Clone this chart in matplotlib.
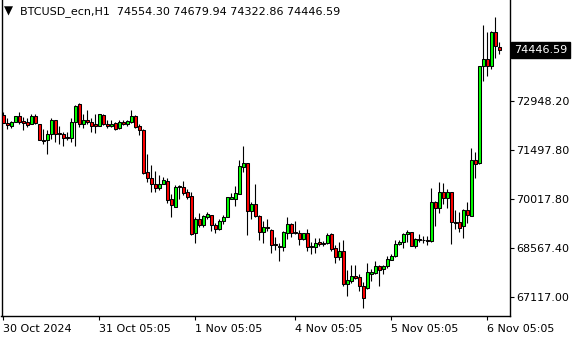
import numpy as np
import matplotlib
matplotlib.use("Agg")
import matplotlib.pyplot as plt

# BTCUSD_ecn H1 candles
opens = [72524, 72276, 72207, 72306, 72484, 72346, 72306, 72247, 72504, 72266,
         71792, 71772, 71970, 72365, 71990, 71950, 71871, 71851, 72326, 72840,
         72266, 72385, 72326, 72247, 72207, 72524, 72266, 72187, 72286, 72128,
         72326, 72247, 72306, 72484, 72187, 72088, 70823, 70644, 70486, 70368,
         70486, 70560, 70023, 69785, 70379, 70398, 70240, 70121, 69014, 69429,
         69251, 69508, 69568, 69251, 69132, 69370, 69508, 70042, 70042, 70181,
         70992, 71091, 69686, 69884, 69528, 69053, 69192, 69113, 68697, 68638,
         68618, 69034, 69291, 69053, 69014, 68856, 69014, 68638, 68618, 68757,
         68717, 68717, 68994, 68579, 68302, 68500, 67523, 67602, 67740, 67720,
         67444, 67384, 67820, 67839, 68057, 67958, 68037, 68234, 68334, 68690,
         68769, 68986, 69046, 68650, 68848, 68808, 68808, 68788, 69936, 69758,
         70232, 70074, 70232, 69362, 69342, 69224, 69698, 69540, 71202, 71103,
         73971, 74188, 73971, 74979, 74554.30]
highs = [72603, 72444, 72346, 72484, 72603, 72464, 72425, 72563, 72563, 72266,
         72108, 72069, 72425, 72365, 72187, 72009, 72009, 72444, 72820, 72880,
         72563, 72662, 72425, 72563, 72563, 72563, 72385, 72365, 72326, 72385,
         72385, 72385, 72662, 72524, 72266, 72108, 71376, 71040, 70862, 70743,
         70684, 70660, 70181, 70458, 70458, 70557, 70319, 70240, 69489, 69607,
         69548, 69647, 69568, 69330, 69429, 69548, 70102, 70201, 70418, 71190,
         71605, 71111, 69944, 70478, 69548, 69390, 69429, 69132, 68915, 68717,
         69093, 69508, 69311, 69370, 69113, 69034, 69132, 68757, 68876, 68876,
         68777, 69014, 69014, 68658, 68757, 68828, 67938, 68076, 68076, 67800,
         67582, 68136, 67958, 68195, 68076, 68076, 68334, 68413, 68808, 68808,
         69026, 69125, 69046, 68868, 68986, 68947, 68947, 70351, 69976, 70549,
         70509, 70331, 70252, 69698, 69639, 69738, 69936, 71538, 71439, 73971,
         75197, 74999, 75019, 75435, 74679.94]
lows = [72276, 72108, 72148, 72306, 72266, 72069, 72168, 72247, 72266, 71772,
        71673, 71376, 71812, 71732, 71673, 71594, 71792, 71713, 71594, 72168,
        72148, 72266, 72009, 71990, 72187, 72227, 72128, 72168, 72088, 72108,
        72227, 72207, 72286, 72128, 71930, 70783, 70546, 70249, 70249, 70308,
        70486, 69900, 69508, 69785, 70042, 70161, 70023, 68974, 68717, 69192,
        69212, 69449, 69093, 69014, 69113, 69291, 69489, 70023, 69825, 70181,
        70834, 68974, 69449, 69489, 68816, 68717, 69073, 68440, 68519, 68183,
        68500, 68856, 68915, 68994, 68658, 68816, 68500, 68401, 68440, 68638,
        68638, 68697, 68500, 68144, 68223, 67463, 67167, 67542, 67661, 67305,
        66811, 67365, 67602, 67800, 67463, 67800, 67978, 68215, 68314, 68670,
        68571, 68769, 68650, 68591, 68749, 68729, 68670, 68769, 69243, 69619,
        69896, 69758, 68690, 69145, 69065, 68887, 69323, 69520, 70648, 71083,
        73536, 73694, 73892, 74228, 74322.86]
closes = [72276, 72217, 72306, 72484, 72306, 72286, 72227, 72504, 72286, 71772,
          71762, 71970, 72385, 71970, 71970, 71851, 71851, 72326, 72801, 72247,
          72365, 72326, 72207, 72207, 72543, 72266, 72187, 72266, 72108, 72326,
          72247, 72346, 72484, 72168, 72088, 70803, 70644, 70466, 70368, 70486,
          70585, 70010, 69845, 70379, 70418, 70220, 70102, 68994, 69429, 69251,
          69528, 69587, 69251, 69132, 69390, 69508, 70082, 70102, 70201, 71012,
          71091, 69667, 69884, 69528, 69053, 69192, 69172, 68678, 68658, 68618,
          69053, 69291, 69034, 69014, 68856, 69014, 68599, 68599, 68737, 68697,
          68697, 68974, 68559, 68302, 68480, 67503, 67622, 67740, 67700, 67444,
          67107, 67859, 67859, 68057, 67938, 68037, 68254, 68334, 68690, 68749,
          68986, 69046, 68650, 68848, 68808, 68828, 68788, 69936, 69758, 70232,
          70074, 70232, 69342, 69322, 69164, 69698, 69560, 71202, 71083, 73971,
          74188, 73971, 74999, 74564, 74446.59]

price_ticks = [72948.20, 71497.80, 70017.80, 68567.40, 67117.00]
time_pos = [0, 24, 48, 73, 97, 121]
time_labels = ["30 Oct 2024", "31 Oct 05:05", "1 Nov 05:05",
               "4 Nov 05:05", "5 Nov 05:05", "6 Nov 05:05"]
symbol = "BTCUSD_ecn,H1"

o = np.array(opens, dtype=float)
h = np.array(highs, dtype=float)
l = np.array(lows, dtype=float)
c = np.array(closes, dtype=float)
x = np.arange(len(o))

W, H = 580, 340
fig = plt.figure(figsize=(W / 100, H / 100), dpi=100)
ax = fig.add_axes([1.5 / W, 24 / H, 508 / W, 316 / H])

up = c >= o
# wicks first, then bodies on top
ax.vlines(x, l, h, color="black", linewidth=0.8, zorder=2)
ax.bar(x, np.abs(c - o), bottom=np.minimum(o, c), width=0.7,
       color=np.where(up, "#00ff00", "#ff0000"), edgecolor="black",
       linewidth=0.75, zorder=3)

ax.set_xlim(-0.45, 126.55)
ax.set_ylim(66562, 75935)

ax.spines["top"].set_visible(False)
for s in ["left", "right", "bottom"]:
    ax.spines[s].set_linewidth(1.0)

font = dict(family="DejaVu Sans", size=8)

ax.yaxis.tick_right()
ax.set_yticks(price_ticks)
ax.set_yticklabels([f"{v:.2f}" for v in price_ticks], **font)
ax.tick_params(axis="y", direction="out", length=3, width=0.8, pad=2)

ax.set_xticks(time_pos)
ax.set_xticklabels(time_labels, ha="left", **font)
ax.tick_params(axis="x", direction="out", length=3, width=0.8, pad=3)

# current price label
ax.annotate(f"{closes[-1]:.2f}", xy=(1.0, closes[-1]),
            xycoords=("axes fraction", "data"), xytext=(3, 0),
            textcoords="offset points", va="center", ha="left",
            color="white", bbox=dict(boxstyle="square,pad=0.25", fc="black", ec="black"),
            **font)

# header
fig.text(4 / W, 1 - 11 / H, "\u25bc", va="center", ha="left",
         family="DejaVu Sans", size=8.5)
fig.text(20 / W, 1 - 12 / H,
         f"{symbol}  {opens[-1]:.2f} {highs[-1]:.2f} {lows[-1]:.2f} {closes[-1]:.2f}",
         va="center", ha="left", **font)

fig.savefig("out.png", dpi=100)
